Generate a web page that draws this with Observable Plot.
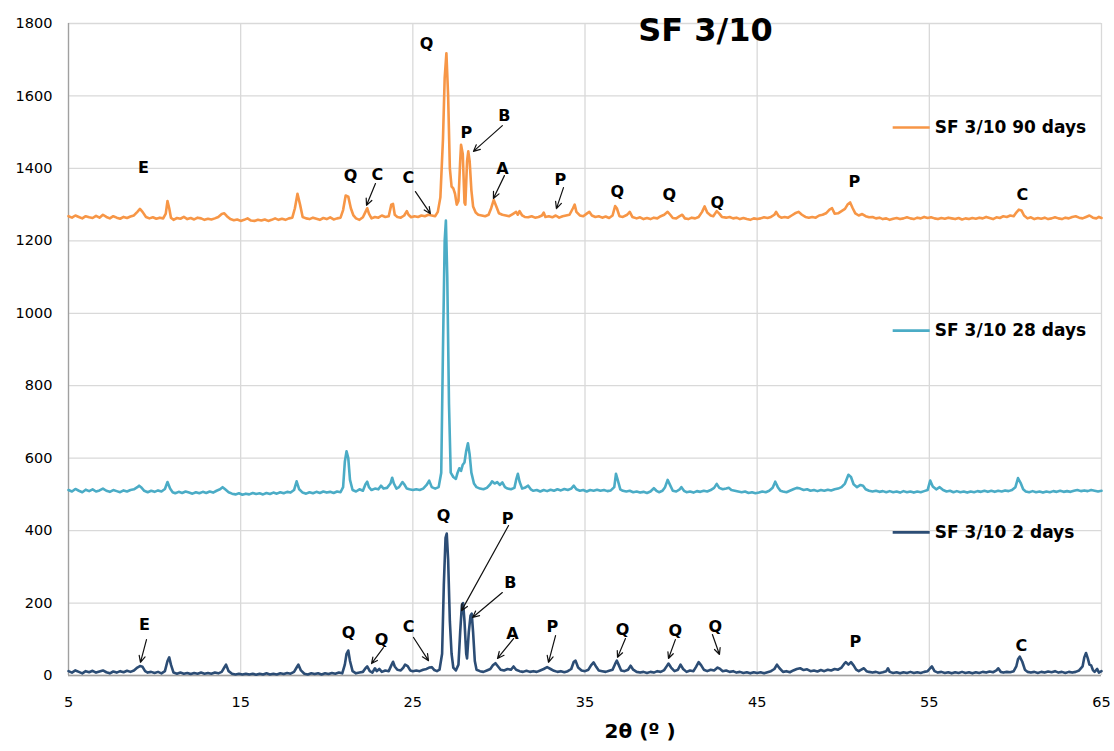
<!DOCTYPE html>
<html>
<head>
<meta charset="utf-8">
<script src="https://cdn.jsdelivr.net/npm/d3@7"></script>
<script src="https://cdn.jsdelivr.net/npm/@observablehq/plot@0.6"></script>
<style>
  html, body { margin: 0; padding: 0; background: #fff; }
  #chart svg { display: block; }
</style>
</head>
<body>
<div id="chart"></div>
<script>
// ---- Tick labels ----
const xTicks = [5, 15, 25, 35, 45, 55, 65];
const yTicks = [0, 200, 400, 600, 800, 1000, 1200, 1400, 1600, 1800];

// ---- Series names / colours ----
const seriesNames = ["SF 3/10 90 days", "SF 3/10 28 days", "SF 3/10 2 days"];
const seriesColors = ["#F79646", "#4BACC6", "#2C4D75"];
const legendY = [1513, 952, 395];

// ---- Series values: [2θ, intensity] ----
const series90 = [
[5.0,1268],[5.2,1264],[5.4,1270],[5.6,1266],[5.8,1262],[6.0,1268],[6.2,1265],[6.4,1263],[6.6,1269],[6.8,1264],
[7.0,1272],[7.2,1266],[7.4,1262],[7.6,1268],[7.8,1264],[8.0,1261],[8.2,1266],[8.4,1263],[8.6,1267],[8.8,1270],
[9.0,1280],[9.15,1288],[9.3,1280],[9.5,1266],[9.7,1262],[9.9,1265],[10.1,1261],[10.3,1264],[10.5,1262],[10.65,1275],
[10.75,1310],[10.85,1290],[10.95,1264],[11.1,1258],[11.3,1263],[11.5,1261],[11.7,1266],[11.9,1260],[12.1,1263],[12.3,1259],
[12.5,1264],[12.7,1262],[12.9,1258],[13.1,1261],[13.3,1259],[13.5,1262],[13.7,1266],[13.9,1274],[14.05,1276],[14.2,1268],
[14.4,1260],[14.6,1257],[14.8,1259],[15.0,1255],[15.2,1258],[15.4,1262],[15.6,1256],[15.8,1255],[16.0,1258],[16.2,1256],
[16.4,1259],[16.6,1255],[16.8,1258],[17.0,1262],[17.2,1258],[17.4,1261],[17.6,1258],[17.8,1262],[18.0,1264],[18.15,1290],
[18.3,1330],[18.45,1300],[18.6,1266],[18.8,1262],[19.0,1260],[19.2,1264],[19.4,1261],[19.6,1258],[19.8,1263],[20.0,1260],
[20.2,1265],[20.4,1259],[20.6,1262],[20.8,1264],[20.95,1285],[21.1,1325],[21.25,1322],[21.4,1290],[21.55,1270],[21.7,1262],
[21.9,1258],[22.1,1265],[22.25,1280],[22.35,1290],[22.45,1275],[22.6,1262],[22.8,1266],[23.0,1264],[23.2,1270],[23.4,1266],
[23.6,1268],[23.75,1300],[23.85,1302],[23.95,1272],[24.1,1266],[24.3,1264],[24.5,1270],[24.65,1282],[24.75,1272],[24.9,1265],
[25.1,1268],[25.3,1266],[25.5,1270],[25.7,1268],[25.9,1272],[26.1,1270],[26.3,1268],[26.45,1280],[26.6,1320],[26.75,1480],
[26.85,1650],[26.95,1718],[27.05,1600],[27.15,1400],[27.25,1350],[27.35,1345],[27.45,1330],[27.55,1300],[27.65,1310],[27.75,1420],
[27.8,1465],[27.9,1440],[28.0,1305],[28.05,1300],[28.15,1420],[28.22,1447],[28.3,1420],[28.4,1340],[28.5,1295],[28.65,1278],
[28.8,1272],[29.0,1270],[29.2,1268],[29.4,1272],[29.55,1290],[29.7,1313],[29.85,1295],[30.0,1276],[30.2,1272],[30.4,1270],
[30.6,1268],[30.8,1274],[31.0,1280],[31.1,1272],[31.2,1282],[31.35,1270],[31.5,1266],[31.7,1265],[31.9,1268],[32.1,1264],
[32.3,1266],[32.5,1270],[32.6,1278],[32.7,1266],[32.9,1268],[33.1,1265],[33.3,1270],[33.5,1264],[33.7,1268],[33.9,1270],
[34.1,1272],[34.3,1290],[34.4,1300],[34.5,1280],[34.7,1270],[34.9,1268],[35.1,1275],[35.25,1280],[35.4,1270],[35.6,1266],
[35.8,1268],[36.0,1264],[36.2,1267],[36.4,1263],[36.6,1270],[36.75,1296],[36.85,1290],[37.0,1268],[37.2,1266],[37.45,1272],
[37.6,1280],[37.75,1266],[38.0,1262],[38.2,1265],[38.4,1260],[38.6,1263],[38.8,1260],[39.0,1264],[39.2,1262],[39.4,1268],
[39.6,1272],[39.8,1280],[39.95,1272],[40.1,1263],[40.3,1262],[40.5,1268],[40.65,1272],[40.8,1262],[41.0,1260],[41.2,1264],
[41.4,1262],[41.6,1266],[41.8,1280],[41.95,1295],[42.1,1278],[42.3,1270],[42.45,1268],[42.65,1282],[42.8,1275],[42.95,1266],
[43.2,1264],[43.4,1266],[43.6,1262],[43.8,1264],[44.0,1260],[44.2,1263],[44.4,1260],[44.6,1258],[44.8,1262],[45.0,1260],
[45.2,1262],[45.4,1265],[45.6,1263],[45.8,1266],[46.0,1272],[46.1,1280],[46.25,1268],[46.4,1264],[46.6,1266],[46.8,1264],
[47.0,1270],[47.2,1276],[47.4,1280],[47.6,1272],[47.8,1266],[48.0,1264],[48.2,1266],[48.4,1264],[48.6,1270],[48.8,1272],
[49.0,1276],[49.2,1286],[49.35,1290],[49.5,1275],[49.7,1276],[49.9,1282],[50.1,1288],[50.25,1300],[50.4,1306],[50.55,1290],
[50.7,1276],[50.9,1270],[51.1,1274],[51.3,1268],[51.5,1265],[51.7,1266],[51.9,1262],[52.1,1264],[52.3,1260],[52.5,1262],
[52.7,1258],[52.9,1261],[53.1,1263],[53.3,1260],[53.5,1262],[53.7,1265],[53.9,1262],[54.1,1260],[54.3,1264],[54.5,1262],
[54.7,1266],[54.9,1263],[55.1,1265],[55.3,1262],[55.5,1260],[55.7,1263],[55.9,1261],[56.1,1264],[56.3,1262],[56.5,1260],
[56.7,1263],[56.9,1259],[57.1,1262],[57.3,1260],[57.5,1263],[57.7,1261],[57.9,1264],[58.1,1262],[58.3,1266],[58.5,1263],
[58.7,1260],[58.9,1265],[59.1,1263],[59.3,1268],[59.5,1266],[59.7,1270],[59.9,1268],[60.05,1278],[60.2,1286],[60.35,1284],
[60.5,1270],[60.7,1262],[60.9,1265],[61.1,1260],[61.3,1263],[61.5,1261],[61.7,1264],[61.9,1260],[62.1,1262],[62.3,1265],
[62.5,1262],[62.7,1260],[62.9,1264],[63.1,1262],[63.3,1266],[63.5,1268],[63.7,1264],[63.9,1262],[64.1,1266],[64.3,1270],
[64.5,1264],[64.7,1262],[64.85,1266],[65.0,1263]
];

const series28 = [
[5.0,512],[5.2,508],[5.4,515],[5.6,510],[5.8,506],[6.0,513],[6.2,509],[6.4,514],[6.6,508],[6.8,511],
[7.0,516],[7.2,510],[7.4,507],[7.6,512],[7.8,509],[8.0,506],[8.2,511],[8.4,508],[8.6,512],[8.8,514],
[9.0,520],[9.1,524],[9.25,518],[9.4,510],[9.6,506],[9.8,510],[10.0,507],[10.2,511],[10.4,508],[10.6,515],
[10.75,534],[10.9,516],[11.05,506],[11.2,503],[11.4,507],[11.6,504],[11.8,508],[12.0,505],[12.2,502],[12.4,506],
[12.6,503],[12.8,507],[13.0,504],[13.2,508],[13.4,505],[13.6,510],[13.8,514],[13.95,520],[14.1,514],[14.3,506],
[14.5,502],[14.7,500],[14.9,503],[15.1,499],[15.3,502],[15.5,500],[15.7,504],[15.9,501],[16.1,503],[16.3,500],
[16.5,504],[16.7,501],[16.9,505],[17.1,502],[17.3,506],[17.5,503],[17.7,507],[17.9,505],[18.1,512],[18.25,536],
[18.4,514],[18.6,505],[18.8,502],[19.0,506],[19.2,503],[19.4,507],[19.6,504],[19.8,508],[20.0,505],[20.2,507],
[20.4,504],[20.6,508],[20.8,506],[20.95,520],[21.05,590],[21.15,619],[21.25,600],[21.35,540],[21.5,512],[21.7,508],
[21.9,514],[22.1,510],[22.25,528],[22.35,535],[22.45,520],[22.6,512],[22.8,516],[23.0,514],[23.15,524],[23.3,516],
[23.5,518],[23.7,530],[23.8,546],[23.9,530],[24.05,516],[24.2,520],[24.4,534],[24.5,528],[24.65,516],[24.8,514],
[25.0,512],[25.2,514],[25.4,512],[25.6,516],[25.8,526],[25.95,538],[26.1,520],[26.3,516],[26.5,520],[26.65,560],
[26.75,900],[26.85,1200],[26.92,1256],[27.0,1100],[27.1,750],[27.2,560],[27.35,548],[27.5,543],[27.6,560],[27.7,572],
[27.8,565],[27.9,582],[28.0,588],[28.1,620],[28.2,641],[28.3,610],[28.4,560],[28.55,530],[28.7,520],[28.9,516],
[29.1,514],[29.3,518],[29.5,528],[29.6,536],[29.75,530],[29.9,534],[30.05,526],[30.2,533],[30.35,520],[30.5,516],
[30.7,514],[30.9,518],[31.0,540],[31.1,557],[31.2,535],[31.35,516],[31.5,518],[31.7,524],[31.85,514],[32.0,510],
[32.2,512],[32.4,508],[32.6,512],[32.8,509],[33.0,513],[33.2,510],[33.4,514],[33.6,511],[33.8,515],[34.0,512],
[34.2,516],[34.35,524],[34.5,514],[34.7,510],[34.9,512],[35.1,508],[35.3,512],[35.5,510],[35.7,513],[35.9,510],
[36.1,512],[36.3,509],[36.5,511],[36.7,520],[36.8,557],[36.9,540],[37.05,514],[37.2,510],[37.4,508],[37.6,510],
[37.8,506],[38.0,508],[38.2,505],[38.4,507],[38.6,504],[38.8,508],[39.0,517],[39.15,510],[39.3,506],[39.5,510],
[39.65,520],[39.8,540],[39.95,525],[40.1,510],[40.3,508],[40.5,514],[40.6,520],[40.75,510],[40.9,506],[41.1,508],
[41.3,505],[41.5,509],[41.7,507],[41.9,510],[42.1,508],[42.3,512],[42.5,518],[42.65,529],[42.8,518],[43.0,514],
[43.2,516],[43.35,518],[43.5,512],[43.7,510],[43.9,508],[44.1,506],[44.3,508],[44.5,504],[44.7,506],[44.9,503],
[45.1,505],[45.3,508],[45.5,506],[45.7,510],[45.9,518],[46.05,535],[46.2,520],[46.35,510],[46.5,508],[46.7,506],
[46.9,510],[47.1,514],[47.3,518],[47.5,516],[47.7,512],[47.9,514],[48.1,510],[48.3,512],[48.5,509],[48.7,512],
[48.9,510],[49.1,513],[49.3,511],[49.5,514],[49.7,516],[49.9,520],[50.1,530],[50.3,554],[50.45,548],[50.6,528],
[50.8,520],[51.0,526],[51.15,524],[51.3,514],[51.5,510],[51.7,508],[51.9,510],[52.1,507],[52.3,509],[52.5,506],
[52.7,509],[52.9,506],[53.1,508],[53.3,505],[53.5,509],[53.7,506],[53.9,508],[54.1,505],[54.3,508],[54.5,506],
[54.7,509],[54.9,512],[55.05,538],[55.2,522],[55.4,514],[55.6,520],[55.8,512],[56.0,508],[56.2,510],[56.4,506],
[56.6,509],[56.8,506],[57.0,508],[57.2,505],[57.4,508],[57.6,506],[57.8,509],[58.0,507],[58.2,510],[58.4,507],
[58.6,510],[58.8,507],[59.0,510],[59.2,508],[59.4,511],[59.6,509],[59.8,512],[60.0,520],[60.15,545],[60.3,532],
[60.45,514],[60.6,508],[60.8,506],[61.0,509],[61.2,506],[61.4,508],[61.6,505],[61.8,508],[62.0,506],[62.2,509],
[62.4,507],[62.6,510],[62.8,507],[63.0,509],[63.2,507],[63.4,510],[63.6,512],[63.8,509],[64.0,511],[64.2,509],
[64.4,512],[64.6,510],[64.8,508],[65.0,510]
];

const series2 = [
[5.0,12],[5.2,8],[5.4,14],[5.6,10],[5.8,6],[6.0,12],[6.2,9],[6.4,13],[6.6,8],[6.8,11],
[7.0,14],[7.2,9],[7.4,6],[7.6,11],[7.8,8],[8.0,12],[8.2,9],[8.4,13],[8.6,10],[8.8,14],
[9.0,22],[9.15,26],[9.3,24],[9.45,12],[9.6,8],[9.8,10],[10.0,7],[10.2,10],[10.4,6],[10.6,12],
[10.75,40],[10.85,50],[10.95,30],[11.1,8],[11.3,5],[11.5,8],[11.7,5],[11.9,7],[12.1,4],[12.3,7],
[12.5,5],[12.7,8],[12.9,5],[13.1,7],[13.3,5],[13.5,8],[13.7,6],[13.9,10],[14.05,22],[14.15,30],
[14.3,12],[14.5,5],[14.7,3],[14.9,5],[15.1,3],[15.3,5],[15.5,3],[15.7,5],[15.9,2],[16.1,5],
[16.3,3],[16.5,6],[16.7,3],[16.9,5],[17.1,3],[17.3,6],[17.5,4],[17.7,7],[17.9,5],[18.1,10],
[18.25,22],[18.35,30],[18.5,14],[18.7,5],[18.9,3],[19.1,6],[19.3,4],[19.5,6],[19.7,3],[19.9,6],
[20.1,4],[20.3,7],[20.5,5],[20.7,8],[20.9,6],[21.05,30],[21.15,60],[21.25,69],[21.35,40],[21.5,12],
[21.7,6],[21.9,8],[22.1,10],[22.25,20],[22.35,25],[22.5,12],[22.65,8],[22.8,20],[22.9,12],[23.05,18],
[23.2,10],[23.4,14],[23.6,12],[23.75,28],[23.85,38],[23.95,25],[24.1,16],[24.3,14],[24.45,22],[24.55,30],
[24.7,26],[24.85,14],[25.0,12],[25.2,14],[25.4,12],[25.6,16],[25.8,18],[25.95,22],[26.1,23],[26.25,15],
[26.4,12],[26.55,16],[26.7,60],[26.8,250],[26.9,380],[26.97,392],[27.05,320],[27.15,150],[27.25,60],[27.35,22],
[27.5,14],[27.65,30],[27.75,120],[27.85,195],[27.92,200],[28.0,150],[28.1,60],[28.15,47],[28.25,120],[28.35,165],
[28.42,171],[28.5,120],[28.6,40],[28.7,16],[28.9,12],[29.1,10],[29.3,14],[29.5,18],[29.65,28],[29.8,34],
[29.95,25],[30.1,16],[30.3,14],[30.5,18],[30.7,16],[30.85,25],[31.0,16],[31.2,12],[31.4,10],[31.6,13],
[31.8,10],[32.0,12],[32.2,10],[32.4,14],[32.6,18],[32.8,23],[33.0,18],[33.2,13],[33.4,10],[33.6,12],
[33.8,9],[34.0,12],[34.2,18],[34.35,38],[34.45,41],[34.6,22],[34.8,14],[35.0,12],[35.2,16],[35.35,28],
[35.5,36],[35.65,24],[35.8,14],[36.0,12],[36.2,10],[36.4,13],[36.6,16],[36.75,32],[36.85,41],[36.95,30],
[37.1,14],[37.3,12],[37.5,16],[37.65,27],[37.8,16],[38.0,10],[38.2,8],[38.4,10],[38.6,7],[38.8,10],
[39.0,8],[39.2,12],[39.4,10],[39.6,15],[39.75,26],[39.85,33],[40.0,22],[40.2,12],[40.4,16],[40.55,30],
[40.7,18],[40.9,10],[41.1,14],[41.3,12],[41.45,24],[41.6,37],[41.75,28],[41.9,16],[42.1,12],[42.3,16],
[42.5,14],[42.7,22],[42.85,18],[43.0,12],[43.2,14],[43.4,10],[43.6,12],[43.8,8],[44.0,10],[44.2,7],
[44.4,9],[44.6,6],[44.8,9],[45.0,7],[45.2,9],[45.4,6],[45.6,9],[45.8,12],[46.0,18],[46.15,30],
[46.3,20],[46.5,10],[46.7,12],[46.9,9],[47.1,14],[47.3,18],[47.5,20],[47.7,15],[47.9,17],[48.1,12],
[48.3,14],[48.5,11],[48.7,15],[48.9,12],[49.1,16],[49.3,14],[49.5,18],[49.7,16],[49.9,22],[50.05,32],
[50.15,37],[50.3,30],[50.45,37],[50.6,28],[50.75,16],[50.9,12],[51.05,16],[51.2,20],[51.35,12],[51.5,10],
[51.7,8],[51.9,10],[52.1,7],[52.3,9],[52.5,12],[52.6,20],[52.7,10],[52.9,7],[53.1,9],[53.3,6],
[53.5,9],[53.7,7],[53.9,10],[54.1,7],[54.3,9],[54.5,7],[54.7,10],[54.9,12],[55.05,20],[55.15,25],
[55.3,12],[55.5,8],[55.7,10],[55.9,7],[56.1,9],[56.3,6],[56.5,9],[56.7,7],[56.9,10],[57.1,7],
[57.3,9],[57.5,6],[57.7,9],[57.9,7],[58.1,10],[58.3,8],[58.5,11],[58.7,9],[58.9,14],[59.0,20],
[59.15,10],[59.3,8],[59.5,10],[59.7,9],[59.9,12],[60.05,25],[60.15,45],[60.25,52],[60.4,38],[60.55,16],
[60.7,10],[60.9,8],[61.1,10],[61.3,7],[61.5,10],[61.7,8],[61.9,11],[62.1,9],[62.3,12],[62.5,8],
[62.7,10],[62.9,7],[63.1,10],[63.3,8],[63.5,10],[63.7,14],[63.9,25],[64.0,50],[64.1,62],[64.2,48],
[64.3,30],[64.4,28],[64.5,15],[64.6,10],[64.75,18],[64.85,8],[65.0,12]
];

// ---- Phase labels: [letter, 2θ, intensity] ----
const peakLabels = [
["E",9.36,1402],["Q",21.38,1378],["C",22.94,1383],["C",24.74,1375],["Q",25.79,1745],["P",28.11,1499],
["B",30.32,1546],["A",30.2,1400],["P",33.57,1367],["Q",36.88,1336],["Q",39.9,1328],["Q",42.69,1306],
["P",50.65,1364],["C",60.41,1328],
["E",9.41,141],["Q",21.26,119],["Q",23.18,97],["C",24.75,133],["Q",26.78,442],["P",30.5,433],
["B",30.67,257],["A",30.79,116],["P",33.11,133],["Q",37.18,127],["Q",40.25,124],["Q",42.57,133],
["P",50.71,94],["C",60.35,83]
];
// ---- Arrows: [2θ from, I from, 2θ to, I to] ----
const peakArrows = [
[22.83,1358,22.31,1298],[25.15,1336,26.02,1275],[30.2,1518,28.52,1447],[30.32,1380,29.68,1317],
[33.75,1347,33.34,1289],
[9.53,99,9.18,36],[23.29,77,22.6,33],[25.04,105,25.91,41],[30.56,414,27.83,179],[30.2,229,28.47,160],
[30.85,102,29.92,47],[33.29,110,32.88,36],[37.35,102,36.89,50],[40.25,99,39.85,47],[42.4,113,42.81,58]
];

const chartTitle = "SF 3/10";
const xTitle = "2θ (º )";

const seriesList = [series90, series28, series2];
const lineData = seriesList.flatMap((s, i) => s.map(([x, y]) => ({x, y, name: seriesNames[i]})));
const legendData = seriesNames.map((name, i) => ({name, y: legendY[i]}));

const font = "'DejaVu Sans', Verdana, sans-serif";

const chart = Plot.plot({
  width: 1114,
  height: 751,
  marginLeft: 68,
  marginRight: 13,
  marginTop: 23,
  marginBottom: 76,
  style: {fontFamily: font, background: "#fff", color: "#000", overflow: "visible"},
  x: {domain: [5, 65], ticks: xTicks, label: null},
  y: {domain: [0, 1800], ticks: yTicks, label: null},
  color: {domain: seriesNames, range: seriesColors},
  marks: [
    Plot.gridX(xTicks, {stroke: "#d9d9d9", strokeOpacity: 1, strokeWidth: 1.3}),
    Plot.gridY(yTicks, {stroke: "#d9d9d9", strokeOpacity: 1, strokeWidth: 1.3}),
    Plot.ruleX([5], {stroke: "#a0a0a0", strokeWidth: 1.3}),
    Plot.ruleY([0], {stroke: "#a0a0a0", strokeWidth: 1.3}),
    Plot.axisX({ticks: xTicks, tickSize: 0, tickPadding: 21, fontSize: 14.5, label: null, tickFormat: d3.format("d")}),
    Plot.axisY({ticks: yTicks, tickSize: 0, tickPadding: 16, fontSize: 14.5, label: null, tickFormat: d3.format("d")}),
    Plot.line(lineData, {x: "x", y: "y", z: "name", stroke: "name", strokeWidth: 2.6, strokeLinejoin: "round"}),
    Plot.arrow(peakArrows, {x1: d => d[0], y1: d => d[1], x2: d => d[2], y2: d => d[3],
      stroke: "#111", strokeWidth: 1.2, headLength: 9, headAngle: 50}),
    Plot.text(peakLabels, {x: d => d[1], y: d => d[2], text: d => d[0],
      fontSize: 16, fontWeight: "bold", fill: "#000"}),
    Plot.ruleY(legendData, {y: "y", x1: 52.9, x2: 55.05, stroke: "name", strokeWidth: 2.6}),
    Plot.text(legendData, {y: "y", x: 55.32, text: "name", textAnchor: "start",
      fontSize: 17, fontWeight: "bold", fill: "#000"}),
    Plot.text([chartTitle], {x: 42.0, y: 1781, text: d => d, fontSize: 32, fontWeight: "bold", fill: "#000"}),
    Plot.text([xTitle], {x: 38.2, frameAnchor: "bottom", dy: 62, text: d => d,
      fontSize: 20, fontWeight: "bold", fill: "#000"})
  ]
});

document.getElementById("chart").appendChild(chart);
</script>
</body>
</html>
